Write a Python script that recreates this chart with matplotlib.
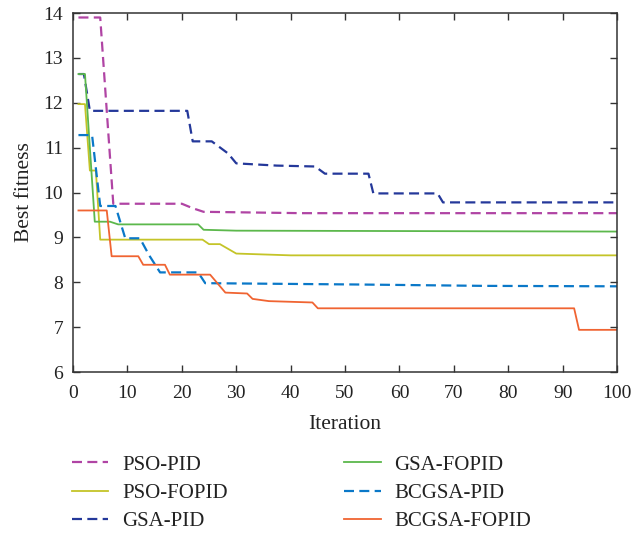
import matplotlib.pyplot as plt

# convergence curves: (iteration, best fitness) vertices of each run
pso_pid_x = [1, 5, 7.4, 20, 22, 24, 42, 100]
pso_pid_y = [13.9, 13.9, 9.75, 9.75, 9.65, 9.57, 9.54, 9.54]

pso_fopid_x = [1, 2.2, 3.1, 4.2, 5, 23.8, 25, 27, 30, 40, 100]
pso_fopid_y = [11.97, 11.97, 10.49, 10.49, 8.95, 8.95, 8.85, 8.85, 8.64, 8.6, 8.6]

gsa_pid_x = [1, 2, 3.1, 21, 22, 25.5, 28.5, 30, 37.4, 44.5, 46.3, 54.3, 55.2, 67, 68, 100]
gsa_pid_y = [12.64, 12.64, 11.82, 11.82, 11.14, 11.14, 10.87, 10.65, 10.6, 10.58, 10.42, 10.42, 9.98, 9.98, 9.78, 9.78]

gsa_fopid_x = [1, 2.2, 4, 6.8, 8.3, 23, 24, 30, 100]
gsa_fopid_y = [12.64, 12.64, 9.35, 9.35, 9.29, 9.29, 9.17, 9.15, 9.13]

bcgsa_pid_x = [1, 3.5, 5, 7.8, 9.6, 12.3, 14, 16, 23, 24.3, 52.7, 75.4, 100]
bcgsa_pid_y = [11.28, 11.28, 9.7, 9.7, 8.98, 8.98, 8.6, 8.22, 8.22, 7.98, 7.95, 7.92, 7.91]

bcgsa_fopid_x = [1, 6.2, 7.1, 12, 12.9, 16.9, 17.8, 25.2, 28, 32, 33, 36, 44, 45, 92.1, 93, 100]
bcgsa_fopid_y = [9.6, 9.6, 8.58, 8.58, 8.39, 8.39, 8.17, 8.17, 7.77, 7.75, 7.63, 7.58, 7.55, 7.42, 7.42, 6.94, 6.94]

plt.rcParams['font.family'] = ['Liberation Serif', 'DejaVu Serif']
txt = '#222222'

fig = plt.figure(figsize=(6.31, 5.33), dpi=100)
ax = fig.add_axes([0.1157, 0.302, 0.8623, 0.6736])

dash = (0, (4.5, 2.4))
ax.plot(pso_pid_x, pso_pid_y, color='#b044a4', lw=1.6, linestyle=dash, label='PSO-PID')
ax.plot(pso_fopid_x, pso_fopid_y, color='#c4c428', lw=1.3, label='PSO-FOPID')
ax.plot(gsa_pid_x, gsa_pid_y, color='#24389a', lw=1.6, linestyle=dash, label='GSA-PID')
ax.plot(gsa_fopid_x, gsa_fopid_y, color='#5cb84c', lw=1.3, label='GSA-FOPID')
ax.plot(bcgsa_pid_x, bcgsa_pid_y, color='#0a78c8', lw=1.6, linestyle=dash, label='BCGSA-PID')
ax.plot(bcgsa_fopid_x, bcgsa_fopid_y, color='#f06432', lw=1.3, label='BCGSA-FOPID')

ax.set_xlim(0, 100)
ax.set_ylim(6, 14)
ax.set_xticks(range(0, 101, 10))
ax.set_yticks(range(6, 15))
ax.tick_params(direction='in', top=True, right=True, length=5, width=1,
               colors='#333333', labelcolor=txt, labelsize=14)
ax.tick_params(axis='x', pad=9)
ax.tick_params(axis='y', pad=7)
for s in ax.spines.values():
    s.set_color('#333333')
    s.set_linewidth(1.1)

ax.set_xlabel('Iteration', color=txt, fontsize=15.5, labelpad=10)
ax.set_ylabel('Best fitness', color=txt, fontsize=15.5, labelpad=7)

fig.legend(*ax.get_legend_handles_labels(), loc='upper left',
           bbox_to_anchor=(0.114, 0.146), bbox_transform=fig.transFigure,
           ncol=2, frameon=False, borderpad=0, borderaxespad=0,
           handlelength=1.75, handletextpad=0.65, columnspacing=5.6,
           labelspacing=0.42, fontsize=15, labelcolor=txt)

fig.savefig('out.png', dpi=100)
